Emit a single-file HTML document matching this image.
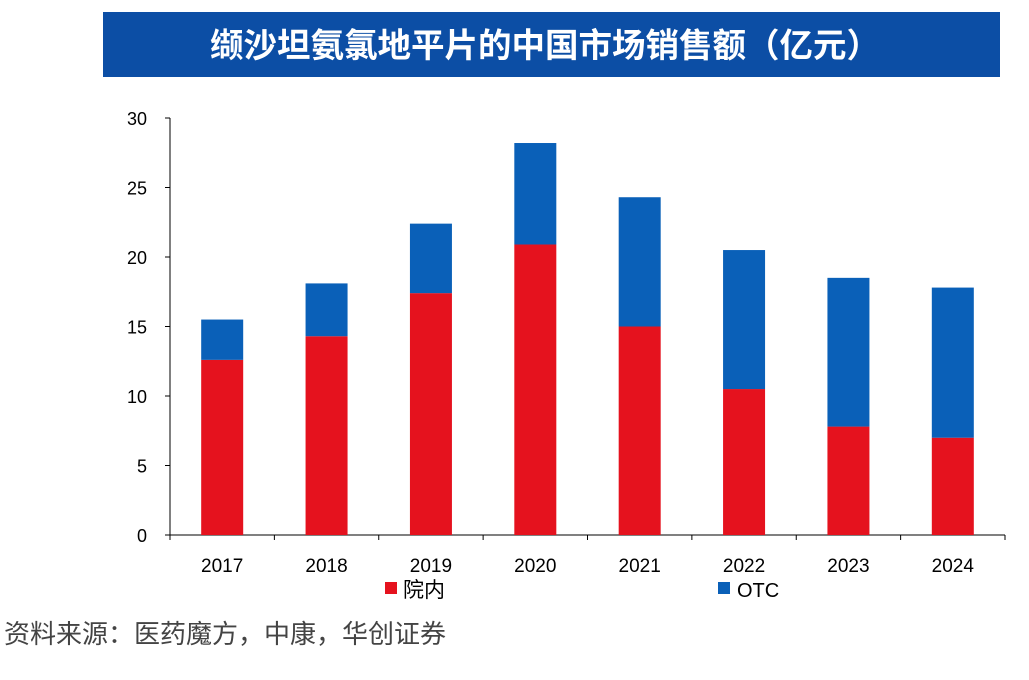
<!DOCTYPE html>
<html><head><meta charset="utf-8"><style>
body{margin:0;width:1029px;height:675px;background:#fff;overflow:hidden;font-family:"Liberation Sans","Noto Sans CJK SC",sans-serif;}
</style></head><body>
<svg width="1029" height="675" xmlns="http://www.w3.org/2000/svg">
<rect x="103" y="12" width="897" height="65" fill="#0c4ea5"/>
<text x="545" y="57" text-anchor="middle" fill="#fff" font-size="33.5" font-weight="bold" font-family="Liberation Sans,Noto Sans CJK SC,sans-serif">缬沙坦氨氯地平片的中国市场销售额（亿元）</text>
<g id="plot"></g>
<rect x="385" y="582" width="12" height="12" fill="#e5121e"/>
<text x="403" y="597" font-size="21" fill="#000">院内</text>
<rect x="718" y="582" width="12" height="12" fill="#0a60b8"/>
<text x="737" y="597" font-size="20" fill="#000">OTC</text>
<text x="4" y="643" font-size="26" fill="#444">资料来源：医药魔方，中康，华创证券</text>
</svg>
<script>
const categories=["2017","2018","2019","2020","2021","2022","2023","2024"];
const hospital=[12.6,14.3,17.4,20.9,15.0,10.5,7.8,7.0];
const otc=[2.9,3.8,5.0,7.3,9.3,10.0,10.7,10.8];
const yTicks=[0,5,10,15,20,25,30];
const NS="http://www.w3.org/2000/svg";
const g=document.getElementById('plot');
const x0=170,x1=1005,y0=535,yTop=118,yMax=30;
const y=v=>y0-(v/yMax)*(y0-yTop);
const bw=(x1-x0)/categories.length;
function mk(t,a){const e=document.createElementNS(NS,t);for(const k in a)e.setAttribute(k,a[k]);g.appendChild(e);return e;}
let ax=mk('line',{x1:x0,y1:yTop,x2:x0,y2:y0,stroke:'#000','stroke-width':1});


let bx=mk('line',{x1:x0,y1:y0,x2:x1,y2:y0,stroke:'#000','stroke-width':1});


yTicks.forEach(v=>{
 let t=mk('line',{x1:x0-5,y1:y(v),x2:x0,y2:y(v),stroke:'#000'});
 
 
 let l=mk('text',{x:x0-23,y:y(v)+7,'text-anchor':'end','font-size':18});
 l.textContent=v;
 
 
});
for(let i=0;i<=categories.length;i++){
 let t=mk('line',{x1:x0+i*bw,y1:y0,x2:x0+i*bw,y2:y0+5,stroke:'#000'});
 
 
}
categories.forEach((c,i)=>{
 const cx=x0+bw*(i+0.5),w=42;
 let r=mk('rect',{x:cx-w/2,y:y(hospital[i]),width:w,height:y0-y(hospital[i]),fill:'#e5121e'});
 
 
 const tot=hospital[i]+otc[i];
 let b=mk('rect',{x:cx-w/2,y:y(tot),width:w,height:y(hospital[i])-y(tot),fill:'#0a60b8'});
 
 
 let l=mk('text',{x:cx,y:572,'text-anchor':'middle','font-size':19});
 l.textContent=c;
 
 
});
</script>
</body></html>
